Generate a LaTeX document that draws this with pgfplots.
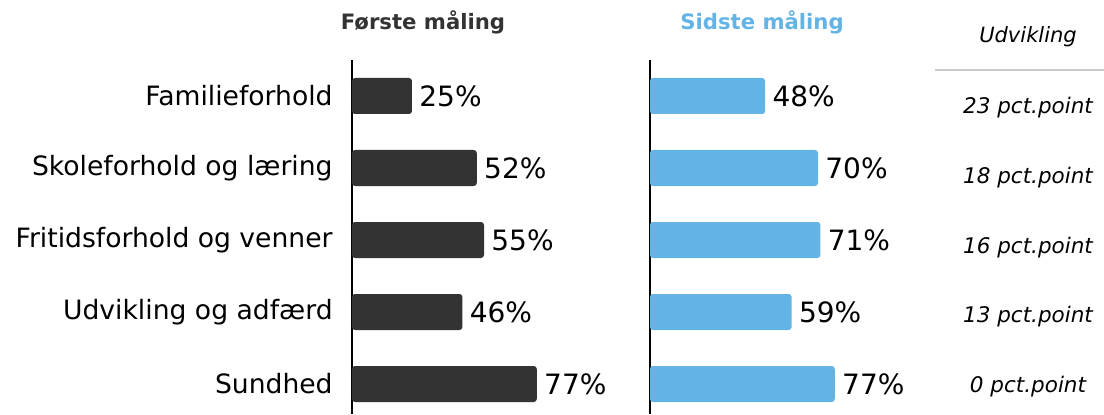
\documentclass[border=0pt]{standalone}
\usepackage{fontspec}
\setmainfont{DejaVu Sans}
\usepackage{pgfplots}
\pgfplotsset{compat=1.18}
\definecolor{darkbar}{HTML}{333333}
\definecolor{bluebar}{HTML}{63B4E4}
\definecolor{rule}{HTML}{C8C8C8}
\tikzset{dev/.style={font=\fontsize{10.75}{12}\selectfont\itshape, anchor=base}}
\begin{document}
\begin{tikzpicture}[x=1pt,y=1pt]
\path[use as bounding box] (0,0) rectangle (552,207);
\pgfplotsset{panel/.style={scale only axis, width=120pt, height=177pt,
  xmin=0, xmax=100, ymin=-0.4167, ymax=4.5,
  axis x line=none, axis y line*=left,
  axis line style={black, line width=0.8pt},
  xbar, bar width=18pt, bar shift=0pt,
  ytick={0,...,4}, major tick length=0pt, clip=false,
  point meta=x,
  /pgf/number format/assume math mode=true,
  nodes near coords={\pgfmathprintnumber{\pgfplotspointmeta}\%},
  nodes near coords style={anchor=west, inner sep=0pt, xshift=3.5pt,
    font=\fontsize{14}{16}\selectfont, text=black},
  anchor=south west}}
\begin{axis}[panel, at={(176pt,0pt)},
  yticklabels={Sundhed, Udvikling og adfærd, Fritidsforhold og venner, Skoleforhold og læring, Familieforhold},
  yticklabel style={font=\fontsize{13.3}{16}\selectfont, inner sep=0pt, xshift=-9.5pt}]
\addplot[fill=darkbar, draw=none, rounded corners=1.5pt] coordinates {(77,0) (46,1) (55,2) (52,3) (25,4)};
\end{axis}
\begin{axis}[panel, at={(325pt,0pt)}, yticklabels={}]
\addplot[fill=bluebar, draw=none, rounded corners=1.5pt] coordinates {(77,0) (59,1) (71,2) (70,3) (48,4)};
\node[dev] at (axis cs:157.5,3.753) {23 pct.point};
\node[dev] at (axis cs:157.5,2.788) {18 pct.point};
\node[dev] at (axis cs:157.5,1.815) {16 pct.point};
\node[dev] at (axis cs:157.5,0.857) {13 pct.point};
\node[dev] at (axis cs:157.5,-0.115) {0 pct.point};
\end{axis}
\node[font=\fontsize{10.6}{12}\selectfont\bfseries, text=darkbar] at (211.5,196) {Første måling};
\node[font=\fontsize{10.6}{12}\selectfont\bfseries, text=bluebar] at (381,196) {Sidste måling};
\node[font=\fontsize{10.5}{12}\selectfont\itshape] at (514,188.5) {Udvikling};
\draw[rule, line width=0.8pt] (467.5,172) -- (552,172);
\end{tikzpicture}
\end{document}
